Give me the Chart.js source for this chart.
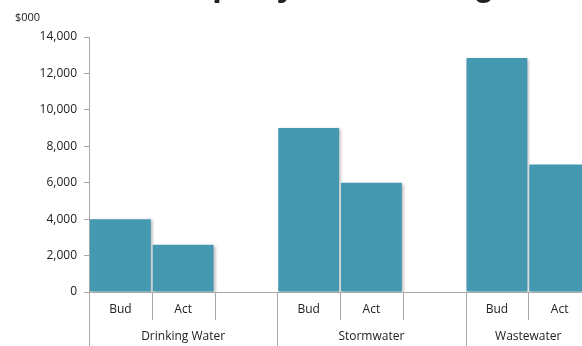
<!DOCTYPE html>
<html>
<head>
<meta charset="utf-8">
<script src="https://cdn.jsdelivr.net/npm/chart.js@4.4.1/dist/chart.umd.min.js"></script>
<style>
  html, body { margin: 0; padding: 0; background: #fff; overflow: hidden; }
  #wrap { position: relative; width: 582px; height: 346px; overflow: hidden; }
  #wrap canvas { position: absolute; left: 0; top: 0; }
</style>
</head>
<body>
<div id="wrap"><canvas id="budgetChart" width="592" height="346"></canvas></div>
<script>
// Budget vs actual by network ($000)
const groups = ["Drinking Water", "Stormwater", "Wastewater"];
const budget = [4000, 9000, 12850];
const actual = [2600, 6000, 7000];
const yTicks = [0, 2000, 4000, 6000, 8000, 10000, 12000, 14000];

const FONT = "'Open Sans', sans-serif";
const AXIS = "#a8a8a8";

// Bud / Act per group, with an empty spacer slot between groups
const labels = [];
const values = [];
const groupStart = [];
groups.forEach((g, i) => {
    groupStart.push(labels.length);
    labels.push("Bud", "Act");
    values.push(budget[i], actual[i]);
    if (i < groups.length - 1) {
        labels.push("");
        values.push(null);
    }
});

const barShadow = {
    id: "barShadow",
    beforeDatasetsDraw(chart) {
        const c = chart.ctx;
        c.save();
        c.shadowColor = "rgba(0,0,0,0.28)";
        c.shadowBlur = 3;
        c.shadowOffsetX = 2;
        c.shadowOffsetY = 1;
    },
    afterDatasetsDraw(chart) {
        chart.ctx.restore();
    }
};

// two-level category axis and the heading above the plot
const groupAxis = {
    id: "groupAxis",
    afterDraw(chart) {
        const c = chart.ctx;
        const x = chart.scales.x;
        const area = chart.chartArea;
        const slot = x.getPixelForValue(1) - x.getPixelForValue(0);
        c.save();
        c.strokeStyle = AXIS;
        c.lineWidth = 1;
        for (let i = 0; i <= labels.length; i++) {
            const px = Math.round(x.getPixelForValue(i) - slot / 2) + 0.5;
            const long = groupStart.includes(i) || i === labels.length;
            c.beginPath();
            c.moveTo(px, area.bottom);
            c.lineTo(px, long ? chart.height : area.bottom + 28);
            c.stroke();
        }
        c.fillStyle = "#222";
        c.font = "12px " + FONT;
        c.textAlign = "center";
        c.textBaseline = "middle";
        labels.forEach((l, i) => {
            if (l) c.fillText(l, x.getPixelForValue(i), area.bottom + 18);
        });
        groups.forEach((g, i) => {
            const mid = (x.getPixelForValue(groupStart[i]) + x.getPixelForValue(groupStart[i] + 1)) / 2;
            const cx = i < groups.length - 1 ? x.getPixelForValue(groupStart[i] + 1) : mid;
            c.fillText(g, cx, area.bottom + 45);
        });
        c.textAlign = "left";
        c.font = "11px " + FONT;
        c.fillText("$000", 15, 18);
        c.textAlign = "center";
        c.textBaseline = "alphabetic";
        c.font = "bold 34px 'Liberation Sans', sans-serif";
        c.fillText("Total Property Water Budget", 296, -4);
        c.restore();
    }
};

new Chart(document.getElementById("budgetChart").getContext("2d"), {
    type: "bar",
    data: {
        labels: labels,
        datasets: [{
            data: values,
            backgroundColor: "#4499b1",
            borderWidth: 0,
            barPercentage: 0.97,
            categoryPercentage: 1
        }]
    },
    options: {
        responsive: false,
        animation: false,
        layout: { padding: { top: 37, left: 0, right: 1, bottom: 0 } },
        plugins: {
            legend: { display: false },
            tooltip: { enabled: false }
        },
        scales: {
            x: {
                offset: true,
                afterFit(scale) { scale.height = 54; },
                grid: { display: false },
                border: { color: AXIS },
                ticks: { display: false }
            },
            y: {
                min: 0,
                max: 14000,
                afterFit(scale) { scale.width = 89; },
                afterBuildTicks(scale) { scale.ticks = yTicks.map(v => ({ value: v })); },
                grid: { drawOnChartArea: false, tickLength: 5, color: AXIS },
                border: { color: AXIS },
                ticks: {
                    padding: 7,
                    color: "#222",
                    font: { family: FONT, size: 12 },
                    callback: v => v.toLocaleString("en-US")
                }
            }
        }
    },
    plugins: [barShadow, groupAxis]
});
</script>
</body>
</html>
